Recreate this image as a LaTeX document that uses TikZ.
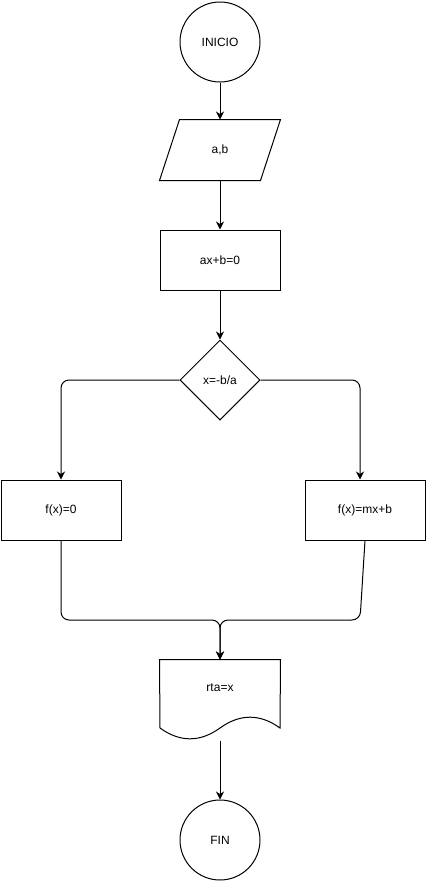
\documentclass[tikz,border=0pt]{standalone}
\usepackage{fontspec}
\setmainfont{Liberation Sans}
\usetikzlibrary{shapes.geometric,arrows.meta}
\begin{document}
\begin{tikzpicture}[x=1pt,y=-1pt,line width=1pt,
  every node/.style={font=\fontsize{12}{14}\selectfont},
  term/.style={draw,circle,minimum size=80pt,inner sep=0pt},
  procbox/.style={draw,rectangle,minimum width=120pt,minimum height=60pt,inner sep=0pt},
  ghost/.style={rectangle,minimum width=120pt,minimum height=60pt,inner sep=0pt},
  decbox/.style={draw,diamond,minimum width=80pt,minimum height=80pt,inner sep=0pt},
  docbox/.style={rectangle,minimum width=120pt,minimum height=80pt,inner sep=0pt},
  arr/.style={-{Stealth[length=8pt,width=8pt,inset=2.5pt]}},
  roundbend/.style={rounded corners=8pt}]
\useasboundingbox (0,0) rectangle (426,881);
\node[term] (inicio) at (220,42) {INICIO};
\node[ghost] (ab) at (220,150) {a,b};
\draw ([xshift=20pt]ab.north west) -- (ab.north east) -- ([xshift=-20pt]ab.south east) -- (ab.south west) -- cycle;
\node[procbox] (eq) at (220,260) {ax+b=0};
\node[decbox] (dec) at (220,380) {x=-b/a};
\node[procbox] (f0) at (61,510) {f(x)=0};
\node[procbox] (fm) at (365,510) {f(x)=mx+b};
\node[docbox] (rta) at (220,700) {};
\draw (rta.north west) -- (rta.north east) -- (280,728)
  .. controls (260,713.6) and (240,713.6) .. (220,728)
  .. controls (200,742.4) and (180,742.4) .. (160,728) -- cycle;
\node (rtatext) at (220,688) {rta=x};
\node[term] (fin) at (220,840) {FIN};
\coordinate (jl) at (61,620);
\coordinate (jr) at (360,620);
\coordinate (jm) at (220,620);
\coordinate (dl) at (61,380);
\coordinate (dr) at (360,380);
\draw[arr] (inicio.south) -- (ab.north);
\draw[arr] (ab.south) -- (eq.north);
\draw[arr] (eq.south) -- (dec.north);
\draw[arr,roundbend] (dec.west) -- (dl) -- (f0.north);
\draw[arr,roundbend] (dec.east) -- (dr) -- (fm.north -| dr);
\draw[arr,roundbend] (f0.south) -- (jl) -- (jm) -- (rta.north);
\draw[arr,roundbend] (fm.south) -- (jr) -- (jm) -- (rta.north);
\draw[arr] (rta.south) -- (fin.north);
\end{tikzpicture}
\end{document}
